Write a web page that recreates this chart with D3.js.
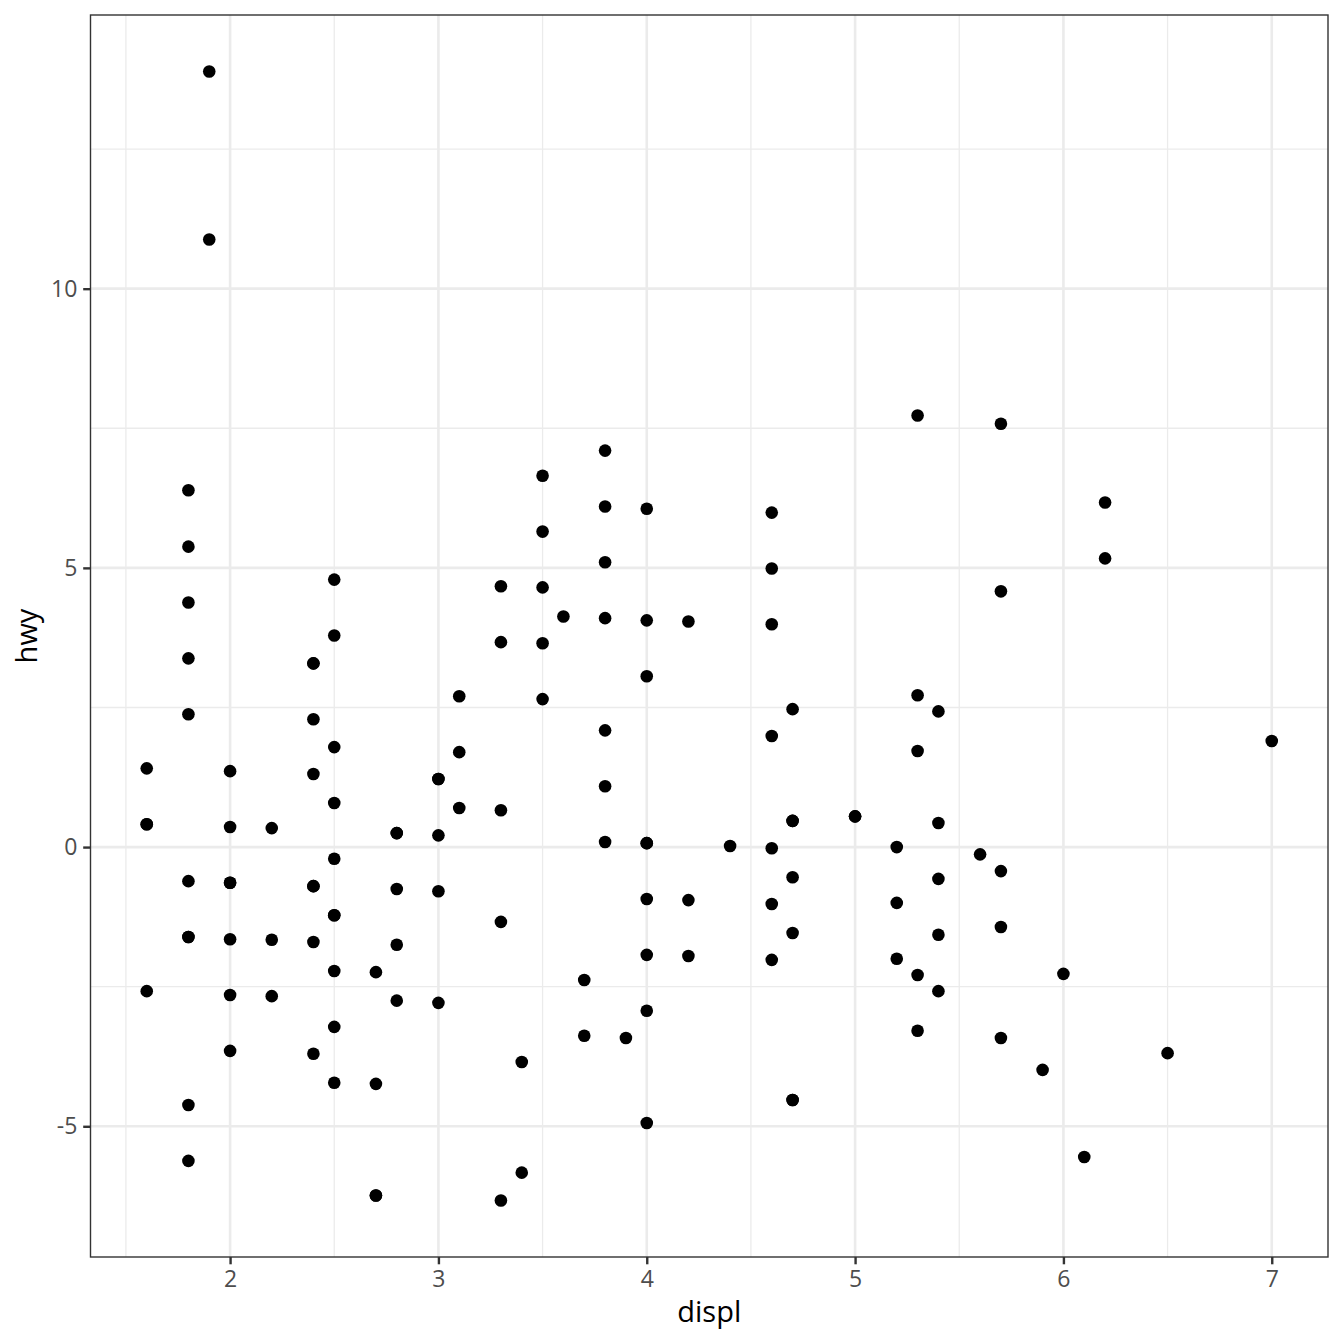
<!DOCTYPE html>
<html>
<head>
<meta charset="utf-8">
<script src="https://cdn.jsdelivr.net/npm/d3@7"></script>
<style>
  body { margin: 0; background: #fff; }
  text { font-family: "Open Sans", sans-serif; }
</style>
</head>
<body>
<svg width="1344" height="1344"></svg>
<script>
// displ values and residual hwy values
const displ = [
  1.6, 1.6, 1.6, 1.6,
  1.8, 1.8, 1.8, 1.8, 1.8, 1.8, 1.8, 1.8, 1.8, 1.8,
  1.9, 1.9,
  2.0, 2.0, 2.0, 2.0, 2.0, 2.0, 2.0,
  2.2, 2.2, 2.2,
  2.4, 2.4, 2.4, 2.4, 2.4, 2.4, 2.4, 2.4,
  2.5, 2.5, 2.5, 2.5, 2.5, 2.5, 2.5, 2.5, 2.5, 2.5,
  2.7, 2.7, 2.7, 2.7,
  2.8, 2.8, 2.8, 2.8, 2.8,
  3.0, 3.0, 3.0, 3.0, 3.0,
  3.1, 3.1, 3.1,
  3.3, 3.3, 3.3, 3.3, 3.3,
  3.4, 3.4,
  3.5, 3.5, 3.5, 3.5, 3.5,
  3.6,
  3.7, 3.7,
  3.8, 3.8, 3.8, 3.8, 3.8, 3.8, 3.8,
  3.9,
  4.0, 4.0, 4.0, 4.0, 4.0, 4.0, 4.0, 4.0, 4.0,
  4.2, 4.2, 4.2,
  4.4,
  4.6, 4.6, 4.6, 4.6, 4.6, 4.6, 4.6,
  4.7, 4.7, 4.7, 4.7, 4.7, 4.7, 4.7,
  5.0, 5.0,
  5.2, 5.2, 5.2,
  5.3, 5.3, 5.3, 5.3, 5.3,
  5.4, 5.4, 5.4, 5.4, 5.4,
  5.6,
  5.7, 5.7, 5.7, 5.7, 5.7,
  5.9,
  6.0,
  6.1,
  6.2, 6.2,
  6.5,
  7.0
];
const hwy = [
  1.41, 0.41, 0.41, -2.58,
  6.39, 5.38, 4.38, 3.38, 2.38, -0.61, -1.61, -1.61, -4.62, -5.62,
  13.89, 10.88,
  1.36, 0.36, -0.64, -0.64, -1.65, -2.65, -3.65,
  0.34, -1.66, -2.67,
  3.29, 3.29, 2.29, 1.31, -0.70, -0.70, -1.70, -3.70,
  4.79, 3.79, 1.79, 0.79, -0.21, -1.22, -1.22, -2.22, -3.22, -4.22,
  -2.24, -4.24, -6.24, -6.24,
  0.25, 0.25, -0.75, -1.75, -2.75,
  1.22, 1.22, 0.21, -0.79, -2.79,
  2.70, 1.70, 0.70,
  4.67, 3.67, 0.66, -1.34, -6.33,
  -3.85, -5.83,
  6.65, 5.65, 4.65, 3.65, 2.65,
  4.13,
  -2.38, -3.38,
  7.10, 6.10, 5.10, 4.10, 2.09, 1.09, 0.09,
  -3.42,
  6.06, 4.06, 3.06, 0.07, 0.07, -0.93, -1.93, -2.93, -4.94,
  4.04, -0.95, -1.95,
  0.02,
  5.99, 4.99, 3.99, 1.99, -0.02, -1.02, -2.02,
  2.47, 0.47, 0.47, -0.54, -1.54, -4.53, -4.53,
  0.55, 0.55,
  0.00, -1.00, -2.00,
  7.73, 2.72, 1.72, -2.29, -3.29,
  2.43, 0.43, -0.57, -1.57, -2.58,
  -0.13,
  7.58, 4.58, -0.43, -1.43, -3.42,
  -3.99,
  -2.27,
  -5.55,
  6.17, 5.17,
  -3.69,
  1.90
];
const xTicks = [2, 3, 4, 5, 6, 7];
const yTicks = [-5, 0, 5, 10];
const xMinor = [1.5, 2.5, 3.5, 4.5, 5.5, 6.5];
const yMinor = [-2.5, 2.5, 7.5, 12.5];

const points = displ.map((d, i) => ({ x: d, y: hwy[i] }));

const svg = d3.select('svg');
const pLeft = 90.5, pRight = 1328, pTop = 15, pBottom = 1257;

// ggplot style 5% expansion
const pad = (ext) => {
  const r = ext[1] - ext[0];
  return [ext[0] - r * 0.05, ext[1] + r * 0.05];
};
const x = d3.scaleLinear().domain(pad(d3.extent(displ))).range([pLeft, pRight]);
const y = d3.scaleLinear().domain(pad(d3.extent(hwy))).range([pBottom, pTop]);

const panel = svg.append('g');
panel.append('rect')
  .attr('x', pLeft).attr('y', pTop)
  .attr('width', pRight - pLeft).attr('height', pBottom - pTop)
  .attr('fill', '#fff');

//minor grid
panel.selectAll('.vmin').data(xMinor).enter().append('line')
  .attr('x1', d => x(d)).attr('x2', d => x(d))
  .attr('y1', pTop).attr('y2', pBottom)
  .attr('stroke', '#EBEBEB').attr('stroke-width', 1.3);
panel.selectAll('.hmin').data(yMinor).enter().append('line')
  .attr('y1', d => y(d)).attr('y2', d => y(d))
  .attr('x1', pLeft).attr('x2', pRight)
  .attr('stroke', '#EBEBEB').attr('stroke-width', 1.3);

//major grid
panel.selectAll('.vmaj').data(xTicks).enter().append('line')
  .attr('x1', d => x(d)).attr('x2', d => x(d))
  .attr('y1', pTop).attr('y2', pBottom)
  .attr('stroke', '#EBEBEB').attr('stroke-width', 2.6);
panel.selectAll('.hmaj').data(yTicks).enter().append('line')
  .attr('y1', d => y(d)).attr('y2', d => y(d))
  .attr('x1', pLeft).attr('x2', pRight)
  .attr('stroke', '#EBEBEB').attr('stroke-width', 2.6);

//points
panel.selectAll('circle').data(points).enter().append('circle')
  .attr('cx', d => x(d.x))
  .attr('cy', d => y(d.y))
  .attr('r', 6.3)
  .attr('fill', '#000');

//border
panel.append('rect')
  .attr('x', pLeft).attr('y', pTop)
  .attr('width', pRight - pLeft).attr('height', pBottom - pTop)
  .attr('fill', 'none').attr('stroke', '#333333').attr('stroke-width', 1.4);

//axes
const xAxis = svg.append('g')
  .attr('transform', `translate(0,${pBottom})`)
  .call(d3.axisBottom(x).tickValues(xTicks).tickSize(7.3).tickPadding(5.9).tickFormat(d => String(d)));
const yAxis = svg.append('g')
  .attr('transform', `translate(${pLeft},0)`)
  .call(d3.axisLeft(y).tickValues(yTicks).tickSize(7.3).tickPadding(5.9).tickFormat(d => String(d)));

[xAxis, yAxis].forEach(a => {
  a.select('.domain').remove();
  a.selectAll('.tick line').attr('stroke', '#333333').attr('stroke-width', 2.4);
  a.selectAll('.tick text')
    .attr('fill', '#4D4D4D')
    .style('font-size', '23px')
    .style('font-family', '"Open Sans", sans-serif');
});

svg.append('text')
  .attr('x', (pLeft + pRight) / 2).attr('y', 1322)
  .attr('text-anchor', 'middle')
  .style('font-size', '29px')
  .text('displ');

svg.append('text')
  .attr('transform', `translate(37,${(pTop + pBottom) / 2}) rotate(-90)`)
  .attr('text-anchor', 'middle')
  .style('font-size', '29px')
  .text('hwy');
</script>
</body>
</html>
